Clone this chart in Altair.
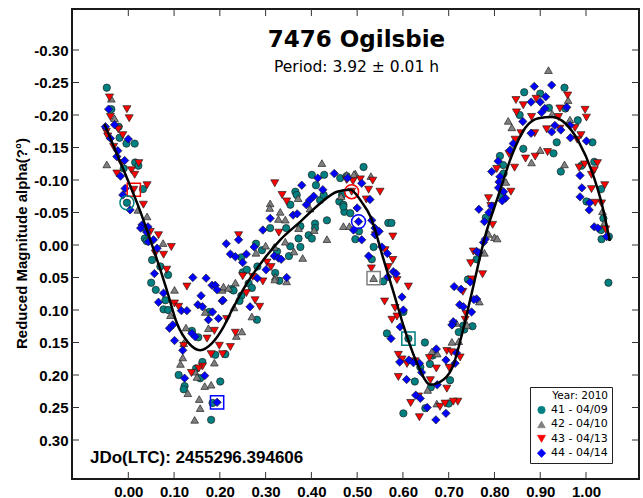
import altair as alt
import pandas as pd

# Sessions, marker styles
sessions = ["41 - 04/09", "42 - 04/10", "43 - 04/13", "44 - 04/14"]
session_colors = ["#008080", "#808080", "#ff0000", "#0000ff"]
session_shapes = ["circle", "triangle-up", "triangle-down", "diamond"]
session_sizes = [54, 70, 70, 72]

x_ticks = [0.0, 0.1, 0.2, 0.3, 0.4, 0.5, 0.6, 0.7, 0.8, 0.9, 1.0]
y_ticks = [-0.30, -0.25, -0.20, -0.15, -0.10, -0.05, 0.0, 0.05, 0.10, 0.15, 0.20, 0.25, 0.30]

# (phase, reduced magnitude) per session
pts_41 = [
    (-0.047, -0.242), (-0.037, -0.209), (-0.021, -0.182), (-0.019, -0.165), (-0.004, -0.156),
    (0.014, -0.156), (-0.010, -0.118), (0.015, -0.127), (0.022, -0.122), (0.032, -0.086),
    (-0.003, -0.065), (0.037, -0.026), (0.036, -0.010), (0.040, -0.006), (0.052, 0.023),
    (0.070, 0.033), (0.087, 0.046), (0.050, 0.058), (0.060, 0.069), (0.081, 0.085),
    (0.077, 0.099), (0.087, 0.100), (0.177, 0.103), (0.139, 0.132), (0.153, 0.142),
    (0.190, 0.169), (0.162, 0.180), (0.148, 0.190), (0.110, 0.200), (0.157, 0.205),
    (0.123, 0.217), (0.201, 0.210), (0.121, 0.222), (0.184, 0.243), (0.181, 0.269),
    (0.401, -0.108), (0.428, -0.108), (0.463, -0.103), (0.410, -0.092), (0.365, -0.082),
    (0.368, -0.077), (0.419, -0.069), (0.427, -0.077), (0.354, -0.062), (0.461, -0.067),
    (0.470, -0.062), (0.472, -0.051), (0.408, -0.033), (0.434, -0.038), (0.376, -0.029),
    (0.408, -0.026), (0.345, -0.026), (0.310, -0.026), (0.394, -0.015), (0.401, -0.010),
    (0.372, -0.010), (0.279, -0.002), (0.292, 0.008), (0.354, 0.002), (0.376, 0.003),
    (0.247, 0.019), (0.325, 0.010), (0.351, 0.017), (0.282, 0.033), (0.321, 0.043),
    (0.330, 0.055), (0.250, 0.042), (0.263, 0.059), (0.226, 0.068), (0.247, 0.078),
    (0.243, 0.086), (0.259, 0.038), (0.270, 0.066), (0.281, 0.115), (0.212, 0.168),
    (0.230, 0.070), (0.514, -0.120), (0.477, -0.106), (0.467, -0.077), (0.470, -0.059),
    (0.485, -0.049), (0.568, -0.034), (0.575, -0.034), (0.504, -0.021), (0.496, -0.009),
    (0.536, 0.003), (0.532, 0.022), (0.557, 0.056), (0.601, 0.103), (0.565, 0.136),
    (0.612, 0.144), (0.648, 0.150), (0.732, 0.124), (0.722, 0.134), (0.665, 0.170),
    (0.659, 0.183), (0.638, 0.188), (0.626, 0.210), (0.661, 0.219), (0.703, 0.208),
    (0.601, 0.259), (0.649, 0.251), (0.700, 0.244), (0.742, 0.053), (0.752, 0.125),
    (1.049, 0.058), (0.761, 0.022), (0.734, 0.130), (1.034, -0.009), (0.953, -0.242),
    (0.865, -0.235), (0.900, -0.233), (0.919, -0.211), (0.955, -0.210), (0.855, -0.200),
    (0.982, -0.192), (1.014, -0.158), (0.929, -0.141), (0.936, -0.158), (0.863, -0.148),
    (0.812, -0.137), (0.819, -0.123), (0.820, -0.110), (0.945, -0.113), (0.990, -0.122),
    (1.018, -0.128), (1.033, -0.086), (1.001, -0.067), (1.038, -0.041), (1.033, -0.023),
    (0.781, -0.042), (0.815, -0.075), (1.050, -0.013),
]

pts_42 = [
    (-0.037, -0.225), (-0.030, -0.195), (-0.047, -0.124), (0.021, -0.054), (0.041, -0.044),
    (0.076, -0.003), (0.101, 0.069), (0.205, 0.069), (0.092, 0.108), (0.168, 0.103),
    (0.126, 0.127), (0.175, 0.128), (0.121, 0.151), (0.119, 0.173), (0.188, 0.181),
    (0.114, 0.183), (0.146, 0.195), (0.150, 0.203), (0.167, 0.217), (0.181, 0.215),
    (0.130, 0.228), (0.155, 0.237), (0.157, 0.251), (0.145, 0.269), (0.423, -0.126),
    (0.477, -0.108), (0.496, -0.110), (0.310, -0.064), (0.309, -0.057), (0.371, -0.072),
    (0.397, -0.056), (0.465, -0.075), (0.332, -0.051), (0.328, -0.040), (0.343, -0.039),
    (0.372, -0.026), (0.406, -0.023), (0.434, -0.009), (0.300, 0.001), (0.319, 0.003),
    (0.343, -0.005), (0.279, 0.012), (0.362, 0.010), (0.381, 0.020), (0.321, 0.049),
    (0.346, 0.056), (0.234, 0.058), (0.208, 0.064), (0.219, 0.066), (0.231, 0.096),
    (0.248, 0.133), (0.236, 0.140), (0.270, 0.110), (0.320, 0.053), (0.493, -0.109),
    (0.530, -0.106), (0.470, -0.029), (0.483, -0.029), (0.536, 0.051), (0.707, 0.149),
    (0.722, 0.148), (0.663, 0.164), (0.675, 0.167), (0.654, 0.223), (0.674, 0.244),
    (0.767, 0.087), (0.717, 0.120), (0.740, 0.123), (0.787, -0.017), (0.800, -0.012),
    (0.806, -0.010), (0.778, 0.012), (0.918, -0.269), (0.961, -0.223), (0.926, -0.202),
    (0.965, -0.193), (0.830, -0.191), (0.838, -0.181), (0.900, -0.146), (0.881, -0.127),
    (0.953, -0.124), (0.825, -0.097), (1.036, -0.052), (1.040, -0.034),
]

pts_43 = [
    (-0.041, -0.227), (-0.003, -0.209), (0.002, -0.195), (-0.039, -0.197), (-0.048, -0.174),
    (-0.045, -0.167), (-0.022, -0.178), (-0.012, -0.169), (-0.032, -0.151), (-0.015, -0.126),
    (0.023, -0.126), (0.007, -0.115), (0.014, -0.108), (-0.025, -0.110), (0.012, -0.085),
    (0.041, -0.092), (0.033, -0.062), (0.048, -0.020), (0.066, -0.015), (0.094, 0.003),
    (0.059, 0.013), (0.077, 0.015), (0.084, 0.038), (0.128, 0.064), (0.101, 0.090),
    (0.110, 0.095), (0.188, 0.132), (0.172, 0.144), (0.121, 0.155), (0.199, 0.155),
    (0.181, 0.168), (0.206, 0.168), (0.162, 0.187), (0.154, 0.190), (0.138, 0.197),
    (0.477, -0.100), (0.320, -0.095), (0.336, -0.077), (0.346, -0.067), (0.329, -0.019),
    (0.241, -0.015), (0.303, 0.027), (0.312, 0.034), (0.250, 0.048), (0.272, 0.049),
    (0.294, 0.056), (0.258, 0.074), (0.277, 0.085), (0.287, 0.095), (0.234, 0.135),
    (0.215, 0.114), (0.223, 0.157), (0.507, -0.101), (0.534, -0.099), (0.491, -0.098),
    (0.525, -0.085), (0.550, -0.082), (0.488, -0.082), (0.520, -0.070), (0.540, -0.015),
    (0.578, -0.013), (0.561, 0.008), (0.578, 0.023), (0.568, 0.034), (0.531, 0.036),
    (0.587, 0.054), (0.612, 0.064), (0.560, 0.087), (0.583, 0.097), (0.576, 0.115),
    (0.587, 0.110), (0.696, 0.163), (0.706, 0.165), (0.590, 0.169), (0.598, 0.176),
    (0.609, 0.183), (0.627, 0.179), (0.658, 0.174), (0.673, 0.190), (0.701, 0.189),
    (0.725, 0.173), (0.590, 0.203), (0.660, 0.208), (0.696, 0.221), (0.634, 0.233),
    (0.617, 0.243), (0.681, 0.249), (0.692, 0.244), (0.720, 0.241), (0.636, 0.265),
    (0.710, 0.241), (0.774, 0.045), (0.736, 0.115), (0.754, 0.010), (0.748, 0.028),
    (0.750, 0.053), (0.731, 0.072), (0.738, 0.106), (0.960, -0.230), (0.847, -0.223),
    (0.891, -0.225), (0.863, -0.215), (0.943, -0.210), (0.998, -0.208), (1.001, -0.196),
    (0.848, -0.204), (0.940, -0.197), (0.881, -0.197), (0.943, -0.179), (0.976, -0.180),
    (0.858, -0.172), (0.888, -0.172), (0.914, -0.178), (0.989, -0.169), (0.981, -0.162),
    (0.845, -0.162), (0.916, -0.143), (0.832, -0.140), (0.868, -0.133), (0.889, -0.136),
    (0.844, -0.119), (0.805, -0.117), (0.985, -0.119), (0.997, -0.124), (1.025, -0.126),
    (1.018, -0.115), (1.012, -0.108), (0.836, -0.082), (1.041, -0.092), (1.012, -0.086),
    (1.034, -0.064), (1.020, -0.065), (1.043, -0.024), (0.787, -0.072), (0.796, -0.031),
    (0.792, -0.060),
]

pts_44 = [
    (-0.043, -0.209), (-0.030, -0.185), (-0.050, -0.182), (-0.039, -0.164), (0.000, -0.163),
    (-0.025, -0.136), (-0.023, -0.145), (-0.008, -0.130), (-0.017, -0.106), (-0.007, -0.087),
    (-0.012, -0.077), (0.004, -0.054), (0.030, -0.031), (0.027, -0.026), (0.043, -0.028),
    (0.040, -0.020), (0.055, -0.008), (0.063, 0.005), (0.044, -0.005), (0.057, 0.044),
    (0.141, 0.050), (0.170, 0.051), (0.183, 0.062), (0.190, 0.062), (0.077, 0.074),
    (0.159, 0.078), (0.205, 0.086), (0.066, 0.088), (0.152, 0.092), (0.162, 0.095),
    (0.116, 0.101), (0.128, 0.101), (0.184, 0.103), (0.197, 0.113), (0.175, 0.115),
    (0.090, 0.128), (0.097, 0.123), (0.139, 0.136), (0.146, 0.141), (0.101, 0.147),
    (0.119, 0.162), (0.167, 0.201), (0.123, 0.205), (0.194, 0.242), (0.414, -0.103),
    (0.450, -0.110), (0.479, -0.103), (0.379, -0.092), (0.425, -0.085), (0.405, -0.075),
    (0.396, -0.069), (0.389, -0.062), (0.360, -0.046), (0.369, -0.048), (0.310, -0.041),
    (0.294, -0.023), (0.241, -0.008), (0.214, -0.002), (0.275, 0.003), (0.223, 0.014),
    (0.234, 0.018), (0.258, 0.014), (0.319, 0.017), (0.328, 0.020), (0.334, 0.022),
    (0.250, 0.027), (0.301, 0.038), (0.346, 0.050), (0.282, 0.051), (0.207, 0.085),
    (0.266, 0.095), (0.194, 0.069), (0.510, -0.095), (0.528, -0.070), (0.500, -0.057),
    (0.503, -0.036), (0.532, -0.038), (0.492, -0.023), (0.539, -0.026), (0.548, -0.021),
    (0.510, -0.008), (0.539, -0.016), (0.554, 0.003), (0.566, 0.013), (0.525, 0.017),
    (0.579, 0.041), (0.585, 0.044), (0.567, 0.049), (0.598, 0.080), (0.601, 0.100),
    (0.594, 0.126), (0.574, 0.144), (0.712, 0.064), (0.727, 0.068), (0.724, 0.092),
    (0.709, 0.122), (0.673, 0.160), (0.593, 0.180), (0.613, 0.177), (0.623, 0.181),
    (0.636, 0.182), (0.694, 0.177), (0.714, 0.182), (0.717, 0.166), (0.641, 0.196),
    (0.608, 0.207), (0.675, 0.215), (0.628, 0.231), (0.638, 0.236), (0.653, 0.250),
    (0.672, 0.269), (0.694, 0.259), (0.761, 0.083), (0.710, 0.118), (0.776, -0.004),
    (0.761, 0.010), (0.766, 0.012), (0.747, 0.057), (0.755, 0.084), (0.732, 0.095),
    (0.750, 0.103), (0.707, 0.123), (0.925, -0.246), (0.887, -0.244), (0.912, -0.228),
    (0.880, -0.220), (0.900, -0.220), (0.910, -0.210), (0.958, -0.212), (0.903, -0.204),
    (0.862, -0.190), (0.932, -0.184), (0.965, -0.184), (0.880, -0.172), (0.925, -0.174),
    (0.945, -0.177), (0.966, -0.165), (1.001, -0.160), (0.841, -0.156), (0.834, -0.146),
    (0.808, -0.129), (0.794, -0.113), (0.987, -0.107), (0.812, -0.105), (0.810, -0.097),
    (0.809, -0.088), (0.820, -0.082), (0.824, -0.072), (0.991, -0.088), (0.987, -0.074),
    (1.008, -0.065), (1.007, -0.054), (1.018, -0.028), (1.026, -0.026), (1.045, -0.013),
    (0.817, -0.068), (0.794, -0.060), (0.766, -0.055), (0.788, -0.050), (0.778, -0.036),
    (0.780, -0.009),
]

# First point of each session, marked with an open box or ring
first_boxes = [(0.012, -0.085, "43 - 04/13"), (0.194, 0.242, "44 - 04/14"),
               (0.536, 0.051, "42 - 04/10"), (0.612, 0.144, "41 - 04/09")]
first_rings = [(-0.003, -0.065, "41 - 04/09"), (0.488, -0.082, "43 - 04/13"),
               (0.503, -0.036, "44 - 04/14")]

# Fourier fit curve
fit_phase = [-0.052, -0.025, 0.0, 0.025, 0.048, 0.07, 0.084, 0.106, 0.132, 0.157, 0.183,
             0.208, 0.223, 0.259, 0.295, 0.332, 0.376, 0.419, 0.456, 0.485, 0.51, 0.529,
             0.558, 0.58, 0.602, 0.631, 0.66, 0.689, 0.71, 0.728, 0.75, 0.779, 0.809,
             0.838, 0.867, 0.896, 0.926, 0.955, 0.984, 1.013, 1.035, 1.052]
fit_mag = [-0.186, -0.14, -0.098, -0.054, -0.008, 0.038, 0.069, 0.12, 0.151, 0.162, 0.151,
           0.126, 0.105, 0.059, 0.023, -0.008, -0.036, -0.064, -0.082, -0.085, -0.066, -0.044,
           0.023, 0.074, 0.126, 0.182, 0.215, 0.207, 0.185, 0.14, 0.075, -0.012, -0.077,
           -0.138, -0.18, -0.195, -0.197, -0.187, -0.159, -0.113, -0.062, -0.006]

title_text = "7476 Ogilsbie"
period_text = "Period: 3.92 \u00b1 0.01 h"
jd_text = "JDo(LTC): 2455296.394606"
y_title = "Reduced Magnitude alpha(?\u00b0)"
legend_title = "Year: 2010"

# ---- tables ----
rows = []
for i, (name, pts) in enumerate(zip(sessions, [pts_41, pts_42, pts_43, pts_44])):
    for p, m in pts:
        rows.append({"phase": p, "mag": m, "session": name, "draw": i})
obs = pd.DataFrame(rows)
boxes = pd.DataFrame(first_boxes, columns=["phase", "mag", "session"])
rings = pd.DataFrame(first_rings, columns=["phase", "mag", "session"])
fit = pd.DataFrame({"phase": fit_phase, "mag": fit_mag})

W, H = 567, 470
FRAME = "#1a1a1a"

x_scale = alt.Scale(domain=[-0.123, 1.1158], nice=False, zero=False)
y_scale = alt.Scale(domain=[-0.3631, 0.36], nice=False, zero=False, reverse=True)

x_axis = alt.Axis(values=x_ticks, format=".2f", title=None, ticks=False, tickSize=0,
                  domain=False, grid=False, labelFont="Liberation Sans", labelFontSize=15,
                  labelFontWeight="bold", labelColor="black", labelPadding=5,
                  labelFlush=False, labelOverlap=False)
y_axis = alt.Axis(values=y_ticks,
                  labelExpr="(datum.value < -0.0001 ? '-' : '') + format(abs(datum.value), '.2f')",
                  title=y_title, ticks=False, tickSize=0, domain=False, grid=False,
                  labelFont="Liberation Sans", labelFontSize=15, labelFontWeight="bold",
                  labelColor="black", labelPadding=4, labelOverlap=False,
                  titleFont="Liberation Sans", titleFontSize=15, titleFontWeight="bold",
                  titleColor="black", titleAngle=270, titleX=-46, titleY=234,
                  titleBaseline="alphabetic", titleAlign="center")

X = alt.X("phase:Q", scale=x_scale, axis=x_axis)
Y = alt.Y("mag:Q", scale=y_scale, axis=y_axis)

legend = alt.Legend(title=legend_title, orient="none", legendX=458, legendY=378,
                    titleAnchor="end", titleFont="DejaVu Sans", titleFontSize=10.5,
                    titleFontWeight="normal", titleColor="black", titlePadding=3,
                    labelFont="DejaVu Sans", labelFontSize=11, labelColor="black",
                    labelOffset=4, symbolSize=52, symbolStrokeColor="#222",
                    symbolStrokeWidth=0.7, symbolOffset=2, padding=4, rowPadding=2.4,
                    strokeColor="#222", fillColor="white")

points = alt.Chart(obs).mark_point(filled=True, opacity=1, stroke="#222", strokeWidth=0.7).encode(
    x=X, y=Y,
    color=alt.Color("session:N", scale=alt.Scale(domain=sessions, range=session_colors), legend=legend),
    shape=alt.Shape("session:N", scale=alt.Scale(domain=sessions, range=session_shapes), legend=legend),
    size=alt.Size("session:N", scale=alt.Scale(domain=sessions, range=session_sizes), legend=None),
    order=alt.Order("draw:Q"),
)

ring_stroke = alt.Stroke("session:N", scale=alt.Scale(domain=sessions, range=session_colors), legend=None)
box_marks = alt.Chart(boxes).mark_point(shape="square", filled=False, size=175, strokeWidth=1.5, opacity=1).encode(
    x=X, y=Y, stroke=ring_stroke)
ring_marks = alt.Chart(rings).mark_point(shape="circle", filled=False, size=195, strokeWidth=1.5, opacity=1).encode(
    x=X, y=Y, stroke=ring_stroke)

curve = alt.Chart(fit).mark_line(color="black", strokeWidth=2.5, interpolate="monotone").encode(x=X, y=Y)

# inward tick marks on all four sides of the frame
xt = pd.DataFrame({"phase": x_ticks})
yt = pd.DataFrame({"mag": y_ticks})
tick_style = dict(color="#333", strokeWidth=1)
top_ticks = alt.Chart(xt).mark_rule(**tick_style).encode(x=X, y=alt.value(0), y2=alt.value(7))
bottom_ticks = alt.Chart(xt).mark_rule(**tick_style).encode(x=X, y=alt.value(H - 7), y2=alt.value(H))
left_ticks = alt.Chart(yt).mark_rule(**tick_style).encode(y=Y, x=alt.value(0), x2=alt.value(7))
right_ticks = alt.Chart(yt).mark_rule(**tick_style).encode(y=Y, x=alt.value(W - 7), x2=alt.value(W))

# drop shadow behind the legend box
shadow = alt.Chart(pd.DataFrame({"k": [0]})).mark_rect(color="#707070").encode(
    x=alt.value(461), x2=alt.value(540.5), y=alt.value(381), y2=alt.value(454))

def label(text, x, y, font, size, weight, align="center"):
    return alt.Chart(pd.DataFrame({"t": [text]})).mark_text(
        font=font, fontSize=size, fontWeight=weight, color="black", align=align,
        baseline="alphabetic").encode(text="t:N", x=alt.value(x), y=alt.value(y))

title_mark = label(title_text, 284.5, 37.7, "DejaVu Sans", 23, "bold")
period_mark = label(period_text, 284.5, 62.7, "DejaVu Sans", 15.5, "normal")
jd_mark = label(jd_text, 18, 453.7, "Liberation Sans", 17, "bold", align="left")

chart = alt.layer(
    points, box_marks, ring_marks, curve,
    top_ticks, bottom_ticks, left_ticks, right_ticks,
    shadow, title_mark, period_mark, jd_mark,
).properties(
    width=W, height=H,
    autosize=alt.AutoSizeParams(type="none"),
    padding={"left": 72, "top": 9, "right": 4, "bottom": 19},
    background="white",
).configure_view(stroke=FRAME, strokeWidth=2)

chart.save("out.html", embed_options={"renderer": "svg", "actions": False})
